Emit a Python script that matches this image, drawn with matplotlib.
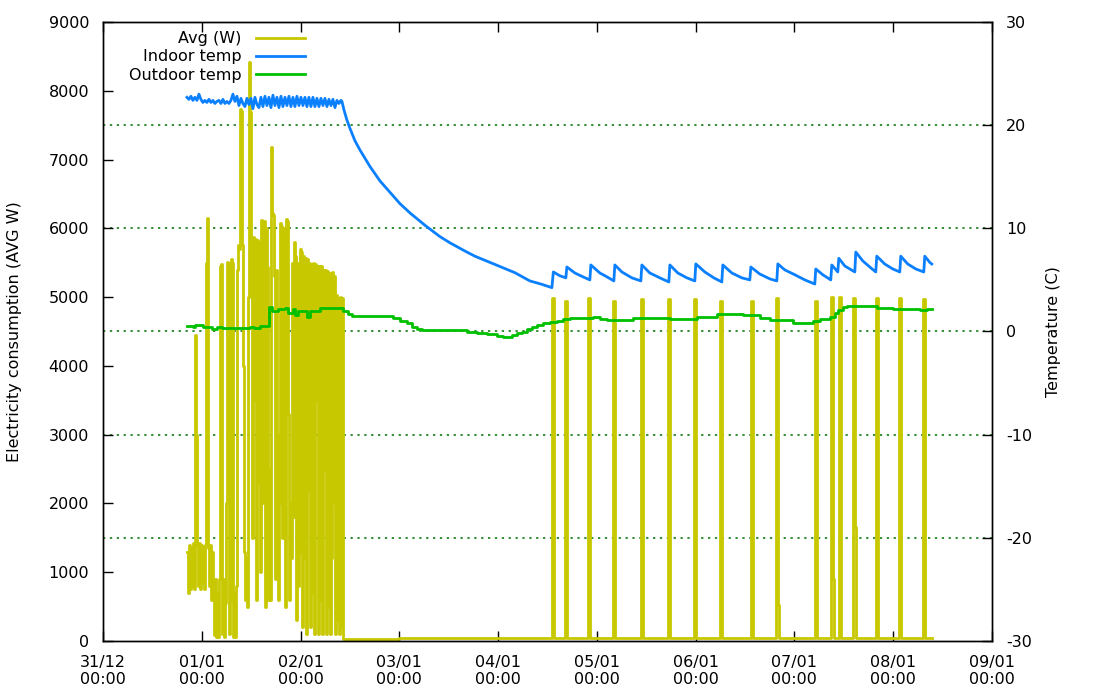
import numpy as np
import matplotlib
matplotlib.use("Agg")
import matplotlib.pyplot as plt

# ---------------- data ----------------
# time axis: hours since 31/12 00:00
x_tick_hours = [0, 24, 48, 72, 96, 120, 144, 168, 192, 216]
x_tick_labels = ["31/12\n00:00", "01/01\n00:00", "02/01\n00:00", "03/01\n00:00",
                 "04/01\n00:00", "05/01\n00:00", "06/01\n00:00", "07/01\n00:00",
                 "08/01\n00:00", "09/01\n00:00"]
left_ticks = [0, 1000, 2000, 3000, 4000, 5000, 6000, 7000, 8000, 9000]
right_ticks = [-30, -20, -10, 0, 10, 20, 30]

# electricity: early, regularly sampled part
power_early_start_h = 20.4
power_early_step_h = 0.243
power_early_w = [
    1300, 700, 1400, 750, 1350, 800, 1420, 750, 4450, 3000,
    1400, 800, 1420, 750, 1400, 850, 1380, 750, 1400, 5500,
    6150, 1350, 800, 1400, 600, 1300, 700, 80, 900, 60,
    700, 60, 900, 5450, 5480, 100, 900, 60, 550, 2000,
    5510, 5500, 100, 600, 5550, 5500, 60, 700, 60, 800,
    5400, 5760, 5700, 7735, 7700, 5760, 4000, 1300, 600, 1200,
    500, 5000, 8420, 7690, 5000, 1500, 5880, 3500, 5850, 600,
    5830, 2300, 5800, 1000, 6120, 2000, 6100, 6100, 500, 6000,
    5440, 600, 2500, 600, 7180, 6220, 6200, 5300, 900, 5400,
    3000, 600, 2000, 6080, 6030, 1500, 6000, 5200, 500, 6130,
    6100, 3300, 600, 2000, 1200, 5500, 1800, 5800, 5600, 300,
    5500, 800, 1300, 5700, 5650, 200, 5600, 1200, 5570, 100,
    5550, 2200, 5500, 200, 5480, 700, 5500, 100, 5480, 3500,
    5450, 100, 5450, 600, 5450, 100, 5400, 2500, 5400, 100,
    5380, 500, 5350, 100, 1200, 5370, 2000, 5300, 100, 5030,
    300, 4980, 100, 5000, 200, 4980, 30]
# standby level after the heating was switched off
base_change_h = [58.4, 72.0]
base_w = [25, 40]
# heater bursts later in the week
spike_h = [109.2, 112.2, 117.8, 123.9, 130.7, 137.2, 143.5, 149.9, 157.4,
           163.5, 172.9, 176.8, 178.8, 182.2, 187.8, 193.4, 199.2]
spike_w = [4990, 4950, 4990, 4950, 4970, 4970, 4970, 4950, 4950,
           4990, 4950, 5000, 5000, 4990, 4990, 4990, 4970]
spike_tail_w = [40, 40, 40, 40, 40, 40, 40, 40, 40,
                520, 40, 900, 40, 1660, 40, 40, 40]
spike_len_h = 0.5
tail_len_h = 0.3
power_end_h = 201.4

# indoor temperature
indoor_early_start_h = 20.4
indoor_early_step_h = 0.486
indoor_early_c = [
    22.7, 22.5, 22.8, 22.4, 22.7, 22.4, 23.0, 22.5, 22.2, 22.4,
    22.2, 22.5, 22.2, 22.4, 22.1, 22.3, 22.4, 22.1, 22.5, 22.1,
    22.3, 22.1, 22.4, 23.0, 22.3, 22.8, 21.9, 22.6, 22.1, 21.8,
    22.6, 22.0, 22.6, 21.6, 22.7, 22.0, 21.7, 22.7, 21.8, 22.8,
    21.9, 22.7, 21.7, 22.9, 21.9, 22.7, 21.7, 22.8, 21.8, 22.7,
    21.9, 22.8, 21.8, 22.7, 21.8, 22.8, 21.9, 22.7, 21.9, 22.7,
    21.8, 22.7, 21.8, 22.7, 21.8, 22.6, 21.8, 22.6, 21.9, 22.6,
    21.8, 22.5, 21.9, 22.5, 21.7, 22.4, 22.1, 22.4]
indoor_late_h = [
    58.06, 58.54, 59.27, 60.0, 61.21, 62.43, 63.64, 64.86, 66.07, 67.29,
    69.72, 72.14, 74.57, 78.22, 81.86, 84.29, 87.93, 90.36, 94.01, 96.44,
    100.08, 103.72, 106.39, 109.07,
    109.43, 111.01, 112.47, 112.71, 114.66, 116.60, 118.30, 118.54, 120.73, 122.43,
    124.13, 124.37, 126.07, 128.50, 130.69, 130.93, 132.87, 135.30, 137.49, 137.73,
    139.67, 141.86, 143.80, 144.04, 146.23, 148.41, 150.36, 150.60, 152.79, 155.22,
    157.16, 157.41, 159.59, 162.02, 163.72, 163.97, 165.66, 168.09, 170.52, 172.95,
    173.19, 174.89, 176.83, 177.08, 178.54, 178.78, 180.24, 182.67, 182.91, 184.61,
    186.31, 187.77, 188.01, 189.95, 191.90, 193.60, 193.84, 195.54, 197.48, 199.43,
    199.67, 200.88, 201.37]
indoor_late_c = [
    22.3, 21.5, 20.5, 19.7, 18.5, 17.6, 16.8, 16.0, 15.3, 14.6,
    13.5, 12.4, 11.5, 10.3, 9.2, 8.6, 7.8, 7.3, 6.7, 6.3,
    5.7, 4.9, 4.6, 4.25,
    5.77, 5.4, 5.2, 6.25, 5.67, 5.3, 5.0, 6.45, 5.67, 5.3,
    4.9, 6.45, 5.77, 5.2, 4.9, 6.45, 5.67, 5.2, 4.8, 6.45,
    5.67, 5.2, 4.9, 6.55, 5.77, 5.2, 4.8, 6.45, 5.67, 5.2,
    5.0, 6.25, 5.57, 5.1, 4.9, 6.55, 5.97, 5.5, 5.0, 4.6,
    6.06, 5.5, 5.0, 6.45, 5.77, 7.1, 6.35, 5.77, 7.7, 6.84,
    6.25, 5.77, 7.3, 6.54, 6.06, 5.77, 7.3, 6.54, 6.06, 5.77,
    7.3, 6.7, 6.54]

# outdoor temperature
outdoor_h = [
    20.40, 21.86, 22.35, 24.29, 26.48, 27.69, 28.91, 35.71, 36.68, 38.14,
    40.32, 41.05, 42.51, 44.21, 44.94, 46.15, 46.64, 47.37, 49.55, 50.28,
    52.71, 54.41, 56.84, 58.30, 59.51, 60.48, 70.44, 72.14, 73.84, 75.06,
    76.27, 77.49, 88.42, 90.85, 93.28, 95.71, 97.16, 99.35, 100.56, 101.78,
    103.00, 104.21, 105.42, 106.88, 108.58, 110.28, 111.74, 113.44, 119.03, 120.73,
    122.43, 128.74, 137.73, 144.29, 149.15, 155.46, 159.59, 162.02, 167.61, 172.47,
    174.17, 176.60, 177.81, 178.54, 179.75, 180.73, 188.01, 191.90, 198.46, 200.16,
    201.37]
outdoor_c = [
    0.56, 0.47, 0.66, 0.47, 0.27, 0.43, 0.37, 0.47, 0.37, 0.53,
    2.35, 2.0, 2.18, 2.25, 1.82, 2.15, 1.6, 1.95, 1.44, 1.95,
    2.24, 2.3, 2.24, 2.0, 1.7, 1.53, 1.28, 1.0, 0.79, 0.47,
    0.24, 0.15, -0.02, -0.12, -0.27, -0.4, -0.5, -0.34, -0.18, -0.02,
    0.2, 0.47, 0.63, 0.79, 0.95, 1.02, 1.18, 1.28, 1.44, 1.21,
    1.11, 1.28, 1.21, 1.44, 1.67, 1.56, 1.28, 1.11, 0.85, 1.0,
    1.18, 1.37, 1.82, 2.08, 2.35, 2.47, 2.31, 2.21, 2.08, 2.18,
    2.18]

series_labels = ["Avg (W)", "Indoor temp", "Outdoor temp"]
series_colors = ["#c8c800", "#0a80ff", "#00c000"]
grid_color = "#007000"

# ---------------- build series ----------------
pt = list(power_early_start_h + power_early_step_h * np.arange(len(power_early_w)))
pv = list(power_early_w)
events = [(h, w) for h, w in zip(base_change_h, base_w)]


def base_at(h):
    val = base_w[0]
    for bh, bw in zip(base_change_h, base_w):
        if h >= bh:
            val = bw
    return val


for h, w, tail in zip(spike_h, spike_w, spike_tail_w):
    events.append((h, w))
    b = base_at(h)
    if tail != b:
        events.append((h + spike_len_h, tail))
        events.append((h + spike_len_h + tail_len_h, b))
    else:
        events.append((h + spike_len_h, b))
events.append((power_end_h, base_at(power_end_h)))
events.sort()
pt += [e[0] for e in events]
pv += [e[1] for e in events]

it = list(indoor_early_start_h + indoor_early_step_h * np.arange(len(indoor_early_c))) + indoor_late_h
iv = indoor_early_c + indoor_late_c

# ---------------- plot ----------------
FS = 11.5
LW = 2.0
plt.rcParams["font.family"] = ["DejaVu Sans"]
fig = plt.figure(figsize=(11, 7), dpi=100)
ax = fig.add_axes([0.0936, 0.0843, 0.8082, 0.8843])
ax2 = ax.twinx()
ax.set_zorder(1)
ax2.set_zorder(2)
ax2.patch.set_visible(False)

ax.set_xlim(x_tick_hours[0], x_tick_hours[-1])
ax.set_ylim(left_ticks[0], left_ticks[-1])
ax2.set_ylim(right_ticks[0], right_ticks[-1])

# grid lines at the temperature ticks (drawn under the data)
y0, y1 = ax.get_ylim()
t0, t1 = ax2.get_ylim()
for v in right_ticks[1:-1]:
    yl = y0 + (v - t0) / (t1 - t0) * (y1 - y0)
    ax.axhline(yl, color=grid_color, lw=1.1, ls=(0, (1.5, 3)), zorder=0)

l1, = ax.plot(pt, pv, drawstyle="steps-post", color=series_colors[0], lw=LW,
              label=series_labels[0], zorder=2)
l2, = ax2.plot(it, iv, color=series_colors[1], lw=LW, label=series_labels[1])
l3, = ax2.plot(outdoor_h, outdoor_c, drawstyle="steps-post", color=series_colors[2],
               lw=LW, label=series_labels[2])

ax.set_xticks(x_tick_hours)
ax.set_xticklabels(x_tick_labels, fontsize=FS, linespacing=1.2)
ax.set_yticks(left_ticks)
ax.set_yticklabels([str(v) for v in left_ticks], fontsize=FS)
ax2.set_yticks(right_ticks)
ax2.set_yticklabels([str(v) for v in right_ticks], fontsize=FS)

ax.tick_params(axis="x", direction="in", length=7, width=1, top=True, pad=10)
ax.tick_params(axis="y", direction="in", length=7, width=1, right=False, pad=10)
ax2.tick_params(axis="y", direction="in", length=7, width=1, pad=10)
for a in (ax, ax2):
    for s in a.spines.values():
        s.set_linewidth(1.0)
        s.set_color("black")

ax.set_ylabel("Electricity consumption (AVG W)", fontsize=FS)
ax.yaxis.set_label_coords(-0.091, 0.5)
ax2.set_ylabel("Temperature (C)", fontsize=FS, rotation=90)
ax2.yaxis.set_label_coords(1.061, 0.5)

leg = ax2.legend(handles=[l1, l2, l3], loc="upper right", bbox_to_anchor=(0.2275, 0.985),
                 frameon=False, markerfirst=False, fontsize=FS, handlelength=3.1,
                 handletextpad=0.9, labelspacing=0.2, borderpad=0, borderaxespad=0)

fig.savefig("out.png", dpi=100)
